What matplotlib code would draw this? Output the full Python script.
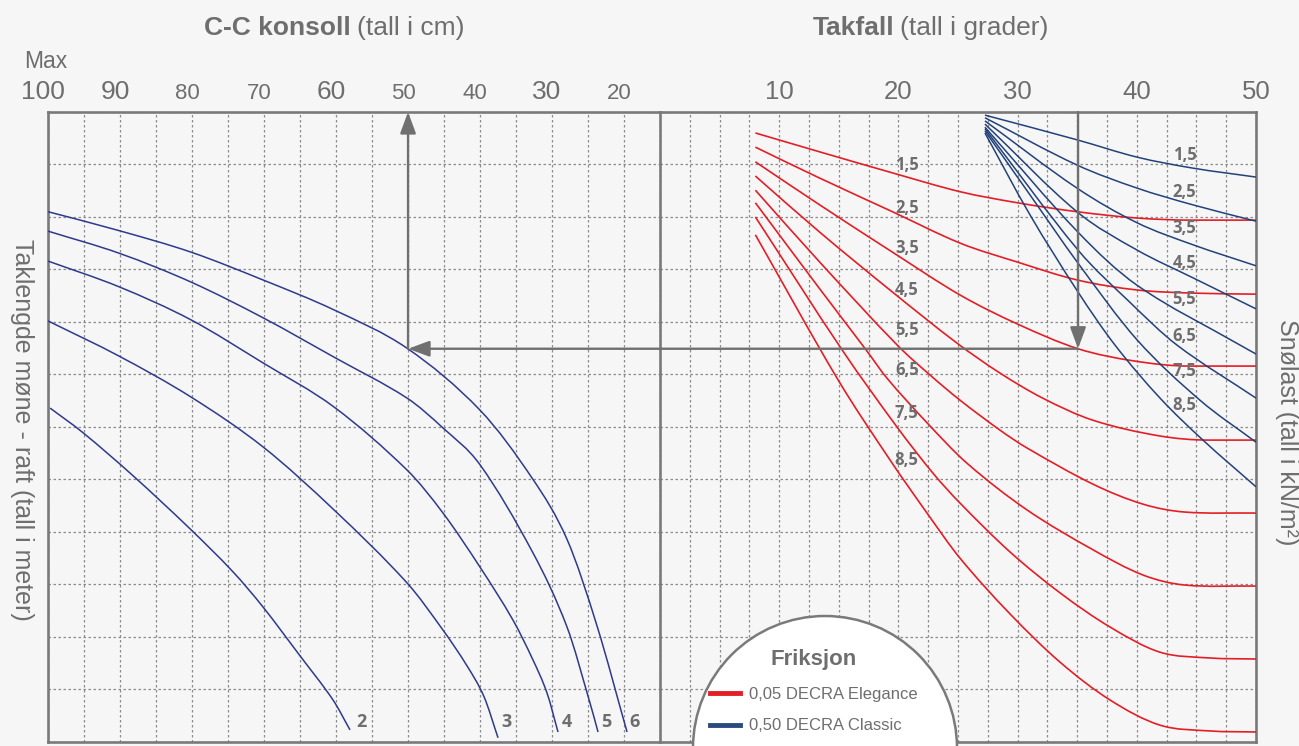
import numpy as np
import matplotlib.pyplot as plt
import matplotlib.transforms as mtransforms
from matplotlib.path import Path
from matplotlib.patches import PathPatch, Circle
from matplotlib.lines import Line2D

# Venstre del: C-C konsoll (cm) mot rad i diagrammet (0 = topp, 12 = bunn)
cc_2 = [99.72, 95.14, 88.19, 80.28, 74.31, 70.14, 65.0, 60.42, 58.06]
y_2 = [5.64, 6.11, 6.93, 7.94, 8.76, 9.43, 10.36, 11.20, 11.77]
cc_3 = [100, 90.14, 80.14, 70.14, 60.28, 50.14, 45.14, 41.81, 39.44, 37.5]
y_3 = [3.98, 4.65, 5.43, 6.38, 7.58, 8.97, 9.87, 10.55, 11.14, 11.92]
cc_4 = [100, 90.14, 80.14, 70.14, 60.28, 50.14, 45.14, 40.0, 35.42, 32.64, 30.69, 29.17]
y_4 = [2.84, 3.33, 3.96, 4.78, 5.62, 6.82, 7.64, 8.67, 9.68, 10.44, 11.07, 11.81]
cc_5 = [100, 90.14, 80.14, 70.14, 60.28, 50.14, 45.14, 40.0, 32.64, 27.92, 24.72, 23.61]
y_5 = [2.27, 2.69, 3.24, 3.92, 4.67, 5.45, 6.02, 6.72, 8.40, 9.81, 11.26, 11.81]
cc_6 = [100, 90.14, 80.14, 70.14, 60.28, 50.14, 40.0, 32.64, 27.92, 23.75, 19.58]
y_6 = [1.90, 2.26, 2.67, 3.20, 3.77, 4.50, 5.68, 7.00, 8.14, 9.79, 11.81]
cc_navn = ['2', '3', '4', '5', '6']

# Høyre del: takfall (grader), friksjon 0,05 (rød) og 0,50 (blå)
snolast = ['1,5', '2,5', '3,5', '4,5', '5,5', '6,5', '7,5', '8,5']

r_1_x = [8, 13.4, 19.5, 25.2, 30.0, 35.0, 40.0, 44.7, 50]
r_1_y = [0.40, 0.76, 1.16, 1.52, 1.73, 1.90, 2.02, 2.06, 2.06]
r_2_x = [8, 13.4, 19.5, 25.2, 30.0, 35.0, 40.0, 44.7, 50]
r_2_y = [0.67, 1.26, 1.90, 2.50, 2.86, 3.20, 3.39, 3.45, 3.47]
r_3_x = [8, 13.4, 19.5, 25.2, 30.0, 35.07, 39.7, 44.4, 50]
r_3_y = [0.95, 1.77, 2.67, 3.49, 4.04, 4.51, 4.74, 4.84, 4.84]
r_4_x = [8, 13.4, 19.5, 24.9, 28.5, 32.1, 36.3, 41.9, 46.1, 50]
r_4_y = [1.22, 2.29, 3.43, 4.40, 4.97, 5.45, 5.87, 6.17, 6.25, 6.25]
r_5_x = [8, 13.4, 19.9, 22.65, 25.17, 28.52, 30.79, 36.33, 40.52, 44.0, 50]
r_5_y = [1.49, 2.86, 4.44, 5.01, 5.49, 6.06, 6.40, 7.09, 7.47, 7.62, 7.64]
r_6_x = [8, 13.4, 17.28, 19.04, 22.4, 25.75, 30.79, 36.33, 40.52, 44.0, 50]
r_6_y = [1.73, 3.37, 4.53, 5.07, 5.92, 6.69, 7.58, 8.34, 8.82, 9.01, 9.03]
r_7_x = [8, 15.27, 19.88, 22.9, 25.17, 29.36, 33.56, 37.75, 41.95, 46.14, 50]
r_7_y = [2.00, 4.53, 6.00, 6.88, 7.45, 8.38, 9.16, 9.81, 10.29, 10.40, 10.42]
r_8_x = [8, 14.93, 19.3, 22.4, 25.17, 29.36, 33.56, 37.75, 41.95, 46.14, 50]
r_8_y = [2.34, 5.10, 6.63, 7.64, 8.50, 9.56, 10.48, 11.20, 11.68, 11.79, 11.81]

b_1_x = [27.26, 34.98, 40.02, 44.72, 50]
b_1_y = [0.06, 0.53, 0.86, 1.07, 1.24]
b_2_x = [27.26, 34.98, 40.02, 44.72, 50]
b_2_y = [0.11, 1.01, 1.45, 1.77, 2.08]
b_3_x = [27.26, 34.98, 40.02, 44.72, 50]
b_3_y = [0.17, 1.45, 2.11, 2.53, 2.93]
b_4_x = [27.26, 34.98, 40.02, 44.72, 50]
b_4_y = [0.23, 1.90, 2.63, 3.16, 3.75]
b_5_x = [27.26, 35.07, 40.02, 48.66, 50]
b_5_y = [0.29, 2.29, 3.30, 4.44, 4.61]
b_6_x = [27.26, 35.07, 39.4, 43.37, 50]
b_6_y = [0.32, 2.63, 3.62, 4.44, 5.45]
b_7_x = [27.26, 31.04, 35.07, 40.02, 45.3, 50]
b_7_y = [0.36, 1.58, 2.88, 4.34, 5.49, 6.29]
b_8_x = [27.26, 31.04, 35.07, 38.17, 41.95, 45.55, 50]
b_8_y = [0.40, 1.96, 3.43, 4.44, 5.45, 6.25, 7.14]

# eksempel: 35 grader, 3,5 kN/m2 -> 50 cm
eks_vinkel = 35.07
eks_rad = 4.51
eks_cc = 50

venstre_ticks = [100, 90, 80, 70, 60, 50, 40, 30, 20]
hoyre_ticks = [10, 20, 30, 40, 50]

bg = '#f6f6f6'
grå = '#6e6e6e'
ramme = '#7a7a7a'
rød = '#e41e26'
blå_v = '#2e3a8c'
blå_h = '#22427a'
sans = ['Liberation Sans', 'DejaVu Sans']
tall = ['Open Sans', 'DejaVu Sans']


def glatt(x, y):
    # kubisk bezier gjennom de avleste punktene (sentrale differanser som tangent)
    x = np.asarray(x, float)
    y = np.asarray(y, float)
    n = len(x)
    h = np.diff(x)
    d = np.diff(y) / h
    m = np.empty(n)
    m[0], m[-1] = d[0], d[-1]
    m[1:-1] = (y[2:] - y[:-2]) / (x[2:] - x[:-2])
    m[1:-1][d[:-1] * d[1:] <= 0] = 0
    verts = [(x[0], y[0])]
    codes = [Path.MOVETO]
    for i in range(n - 1):
        verts += [(x[i] + h[i] / 3, y[i] + m[i] * h[i] / 3),
                  (x[i + 1] - h[i] / 3, y[i + 1] - m[i + 1] * h[i] / 3),
                  (x[i + 1], y[i + 1])]
        codes += [Path.CURVE4] * 3
    return Path(verts, codes)


fig = plt.figure(figsize=(12.99, 7.46), dpi=100, facecolor=bg)
axL = fig.add_axes([0.0370, 0.0054, 0.4711, 0.8445], facecolor=bg)
axR = fig.add_axes([0.5081, 0.0054, 0.4588, 0.8445], facecolor=bg)

axL.set_xlim(100, 15)
axR.set_xlim(0, 50)
for ax in (axL, axR):
    ax.set_ylim(12, 0)
    ax.set_yticks(range(0, 13))
    ax.tick_params(axis='both', which='both', length=0, labelleft=False,
                   labelbottom=False, labeltop=True, pad=6, colors=grå)
    ax.xaxis.tick_top()
    ax.grid(True, which='both', color='#8c8c8c', lw=0.9, ls=(0, (2, 2)))
    for s in ax.spines.values():
        s.set_color(ramme)
        s.set_linewidth(1.9)
axL.spines['right'].set_visible(False)

axL.set_xticks(venstre_ticks)
axL.set_xticks(np.arange(15, 100, 5), minor=True)
axL.set_xticklabels([str(t) for t in venstre_ticks])
store = ['100', '90', '60', '30']
skift = mtransforms.ScaledTranslation(-0.05, 0, fig.dpi_scale_trans)
for lab in axL.get_xticklabels():
    lab.set_fontsize(19 if lab.get_text() in store else 16)
    lab.set_family(sans)
    lab.set_transform(lab.get_transform() + skift)
axR.set_xticks(hoyre_ticks)
axR.set_xticks(np.arange(2.5, 50, 2.5), minor=True)
axR.set_xticklabels([str(t) for t in hoyre_ticks], fontsize=18.5, family=sans)

# kurver
venstre = [(cc_2, y_2), (cc_3, y_3), (cc_4, y_4), (cc_5, y_5), (cc_6, y_6)]
for x, y in venstre:
    axL.add_patch(PathPatch(glatt(x, y), fill=False, edgecolor=blå_v, lw=1.1, zorder=3))
for navn, x_pos in zip(cc_navn, [56.4, 36.3, 27.9, 22.4, 18.5]):
    axL.text(x_pos, 11.62, navn, color=grå, fontsize=13, fontweight='bold',
             family=tall, ha='center', va='center', zorder=4)

røde = [(r_1_x, r_1_y), (r_2_x, r_2_y), (r_3_x, r_3_y), (r_4_x, r_4_y),
        (r_5_x, r_5_y), (r_6_x, r_6_y), (r_7_x, r_7_y), (r_8_x, r_8_y)]
blå = [(b_1_x, b_1_y), (b_2_x, b_2_y), (b_3_x, b_3_y), (b_4_x, b_4_y),
       (b_5_x, b_5_y), (b_6_x, b_6_y), (b_7_x, b_7_y), (b_8_x, b_8_y)]
for x, y in røde:
    axR.add_patch(PathPatch(glatt(x, y), fill=False, edgecolor=rød, lw=1.2, zorder=3))
for x, y in blå:
    axR.add_patch(PathPatch(glatt(x, y), fill=False, edgecolor=blå_h, lw=1.1, zorder=3))

rød_etikett_y = [1.01, 1.83, 2.59, 3.39, 4.15, 4.91, 5.73, 6.63]
blå_etikett_y = [0.82, 1.52, 2.21, 2.88, 3.56, 4.27, 4.93, 5.58]
for navn, yr, yb in zip(snolast, rød_etikett_y, blå_etikett_y):
    axR.text(20.7, yr, navn, color=grå, fontsize=12, fontweight='bold', family=tall,
             ha='center', va='center', zorder=4)
    axR.text(44.0, yb, navn, color=grå, fontsize=12, fontweight='bold', family=tall,
             ha='center', va='center', zorder=4)

# piler for eksemplet
pil = dict(arrowstyle='-|>,head_length=0.65,head_width=0.24', color='#707070',
           lw=1.7, mutation_scale=20, shrinkA=0, shrinkB=0)
axR.annotate('', xy=(eks_vinkel, eks_rad), xytext=(eks_vinkel, 0), arrowprops=pil,
             annotation_clip=False, zorder=5)
axR.annotate('', xy=(eks_cc, eks_rad), xycoords=axL.transData,
             xytext=(eks_vinkel, eks_rad), textcoords=axR.transData,
             arrowprops=pil, annotation_clip=False, zorder=5)
axL.annotate('', xy=(eks_cc, 0), xytext=(eks_cc, eks_rad), arrowprops=pil,
             annotation_clip=False, zorder=5)

# tekster
fig.text(0.2702, 0.963, 'C-C konsoll', ha='right', va='center', fontsize=19,
         fontweight='bold', color=grå, family=sans)
fig.text(0.2748, 0.963, '(tall i cm)', ha='left', va='center', fontsize=19,
         color=grå, family=sans)
fig.text(0.6882, 0.963, 'Takfall', ha='right', va='center', fontsize=19,
         fontweight='bold', color=grå, family=sans)
fig.text(0.6928, 0.963, '(tall i grader)', ha='left', va='center', fontsize=19,
         color=grå, family=sans)
fig.text(0.0185, 0.918, 'Max', ha='left', va='center', fontsize=16.5,
         color=grå, family=sans)
fig.text(0.017, 0.424, 'Taklengde møne - raft (tall i meter)', rotation=-90,
         ha='center', va='center', fontsize=18, color=grå, family=sans)
fig.text(0.9905, 0.420, 'Snølast (tall i kN/m²)', rotation=-90,
         ha='center', va='center', fontsize=18, color=grå, family=sans)

# friksjon-forklaring i halvsirkel
fig.add_artist(Circle((8.25, -0.02), 1.32, transform=fig.dpi_scale_trans,
                      facecolor='white', edgecolor=ramme, lw=1.8, zorder=2))
handles = [Line2D([], [], color=rød, lw=3.5), Line2D([], [], color='#2b4a80', lw=3.5)]
leg = fig.legend(handles, ['0,05 DECRA Elegance', '0,50 DECRA Classic'],
                 title='Friksjon', loc='upper center', bbox_to_anchor=(0.6266, 0.150),
                 frameon=False, handlelength=1.8, handletextpad=0.5,
                 labelspacing=1.0, labelcolor=grå,
                 prop={'family': sans, 'size': 12},
                 title_fontproperties={'family': sans, 'weight': 'bold', 'size': 16})
leg.get_title().set_color(grå)
leg.set_zorder(3)

fig.savefig('out.png', dpi=100, facecolor=bg)
